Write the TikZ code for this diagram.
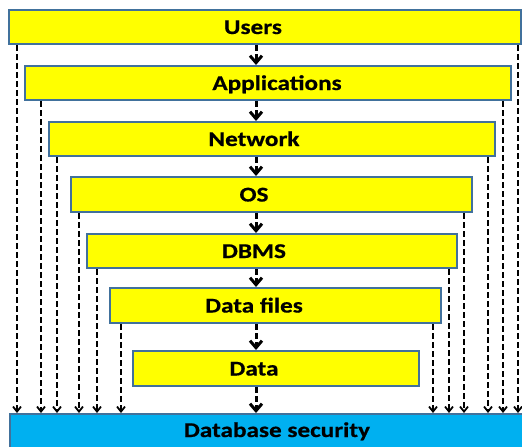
\documentclass[tikz,border=0pt]{standalone}
\usepackage{fontspec}
\setmainfont{Carlito}[FakeStretch=1.2, BoldFeatures={FakeBold=0.6}]
\usetikzlibrary{arrows.meta}
\definecolor{layerfill}{HTML}{FFFF00}
\definecolor{layeredge}{HTML}{41719C}
\definecolor{secfill}{HTML}{00B0F0}
\tikzset{
  layer/.style={draw=layeredge, line width=2pt, fill=layerfill, inner sep=0pt},
  secbox/.style={draw=layeredge, line width=2pt, fill=secfill, inner sep=0pt},
  lbl/.style={font=\bfseries\fontsize{21}{21}\selectfont, anchor=base, inner sep=0pt},
  flow/.style={line width=3pt, dash pattern=on 6pt off 3pt,
    -{Straight Barb[length=7pt,width=12pt]}},
  bypass/.style={line width=1.8pt, dash pattern=on 6pt off 3pt,
    -{Straight Barb[length=5pt,width=8pt]}},
}
\begin{document}
\begin{tikzpicture}[x=1pt,y=-1pt]
\useasboundingbox (0,0) rectangle (522,447);

% stacked layers
\node[layer, minimum width=512pt, minimum height=34pt] (users) at (265,27) {};
\node[layer, minimum width=486pt, minimum height=34pt] (apps)  at (268,83) {};
\node[layer, minimum width=446pt, minimum height=34pt] (net)   at (272,139) {};
\node[layer, minimum width=401pt, minimum height=35pt] (os)    at (271.5,194.5) {};
\node[layer, minimum width=370pt, minimum height=34pt] (dbms)  at (272,251) {};
\node[layer, minimum width=331pt, minimum height=35pt] (files) at (275.5,305.5) {};
\node[layer, minimum width=286pt, minimum height=35pt] (data)  at (276,368.5) {};
\node[secbox, minimum width=531pt, minimum height=50pt, anchor=north west] (sec) at (9,413) {};

% labels
\node[lbl] (usersT) at (253,34)    {Users};
\node[lbl] (appsT)  at (277,90)    {Applications};
\node[lbl] (netT)   at (254,146)   {Network};
\node[lbl] (osT)    at (254,201.5) {OS};
\node[lbl] (dbmsT)  at (254,258)   {DBMS};
\node[lbl] (filesT) at (254,312.5) {Data files};
\node[lbl] (dataT)  at (254,375.5) {Data};
\node[lbl] (secT)   at (277,437)   {Database security};

% main chain down the middle
\coordinate (spine) at (256,0);
\draw[flow] (users.south -| spine) -- (apps.north -| spine);
\draw[flow] (apps.south -| spine)  -- (net.north -| spine);
\draw[flow] (net.south -| spine)   -- (os.north -| spine);
\draw[flow] (os.south -| spine)    -- (dbms.north -| spine);
\draw[flow] (dbms.south -| spine)  -- (files.north -| spine);
\draw[flow] (files.south -| spine) -- (data.north -| spine);
\draw[flow] (data.south -| spine)  -- (sec.north -| spine);

% bypass lines from every layer straight to security
\foreach \n/\xl/\xr in {users/17/518, apps/41/503, net/57/488, os/79/464, dbms/97/449, files/121/433}{
  \coordinate (L-\n) at (\xl,0);
  \coordinate (R-\n) at (\xr,0);
  \draw[bypass] (L-\n |- \n.south) -- (L-\n |- sec.north);
  \draw[bypass] (R-\n |- \n.south) -- (R-\n |- sec.north);
}
\end{tikzpicture}
\end{document}
